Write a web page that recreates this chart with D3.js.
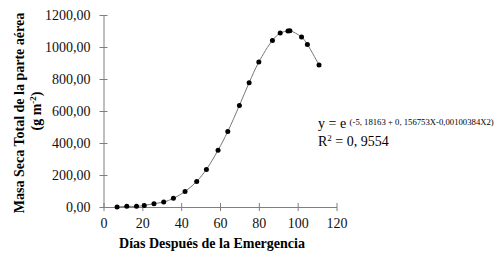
<!DOCTYPE html>
<html>
<head>
<meta charset="utf-8">
<script src="https://cdn.jsdelivr.net/npm/d3@7"></script>
<style>
  body { margin: 0; background: #fff; }
  text { font-family: "Liberation Serif", "Times New Roman", serif; }
</style>
</head>
<body>
<svg></svg>
<script>
// dias despues de la emergencia / masa seca (g m-2)
var dias = [7, 12, 17, 21, 26, 31, 36, 42, 48, 53, 59, 64, 70, 75, 80, 87, 91, 95, 96, 102, 105, 111]
var masa = [0, 4, 4, 10, 21, 31, 54, 97, 160, 235, 355, 472, 635, 777, 906, 1041, 1087, 1100, 1102, 1062, 1016, 887]
var xTicks = [0, 20, 40, 60, 80, 100, 120]
var yTicks = [0, 200, 400, 600, 800, 1000, 1200]

var data = dias.map((d, i) => ({x: d, y: masa[i]}))

var svg = d3.select("svg")
    .attr("width", 500)
    .attr("height", 257)

var margin = {top: 15, left: 103.5}
var graphWidth = 233
var graphHeight = 192

var graph = svg.append("g")
    .attr("transform", `translate(${margin.left}, ${margin.top})`)

var scX = d3.scaleLinear().domain([0, 120]).range([0, graphWidth])
var scY = d3.scaleLinear().domain([0, 1200]).range([graphHeight, 0])

var loc = d3.formatLocale({decimal: ",", thousands: "", grouping: [3], currency: ["", ""]})

var xAxis = d3.axisBottom(scX).tickValues(xTicks).tickSize(0).tickPadding(0).tickFormat(d3.format("d"))
var yAxis = d3.axisLeft(scY).tickValues(yTicks).tickSize(0).tickPadding(0).tickFormat(loc.format(".2f"))

var xg = graph.append("g").attr("transform", `translate(0, ${graphHeight})`).call(xAxis)
var yg = graph.append("g").call(yAxis)

// cross ticks like the excel chart
xg.selectAll(".tick line").attr("y1", -4).attr("y2", 4)
yg.selectAll(".tick line").attr("x1", -4).attr("x2", 4)
graph.selectAll(".domain, .tick line").attr("stroke", "#7f7f7f")
xg.selectAll(".tick text").attr("y", 21).attr("dy", 0)
yg.selectAll(".tick text").attr("x", -13).attr("dy", "0.35em")
graph.selectAll(".tick text").attr("font-size", 14).attr("font-family", "Liberation Serif").attr("fill", "#111")

var line = d3.line()
    .x(d => scX(d.x))
    .y(d => scY(d.y))
    .curve(d3.curveCatmullRom)

graph.append("path")
    .datum(data)
    .attr("d", line)
    .attr("fill", "none")
    .attr("stroke", "#777")
    .attr("stroke-width", 1)

graph.selectAll("circle").data(data).enter().append("circle")
    .attr("cx", d => scX(d.x))
    .attr("cy", d => scY(d.y))
    .attr("r", 2.5)
    .attr("fill", "#000")

// axis titles
svg.append("text")
    .attr("x", 212).attr("y", 248)
    .attr("text-anchor", "middle")
    .attr("font-size", 14).attr("font-weight", "bold")
    .text("Días Después de la Emergencia")

svg.append("text")
    .attr("transform", "translate(24, 113) rotate(-90)")
    .attr("text-anchor", "middle")
    .attr("font-size", 14).attr("font-weight", "bold")
    .text("Masa Seca Total de la parte aérea")

var l2 = svg.append("text")
    .attr("transform", "translate(41, 111) rotate(-90)")
    .attr("text-anchor", "middle")
    .attr("font-size", 14).attr("font-weight", "bold")
l2.append("tspan").text("(g m")
l2.append("tspan").attr("font-size", 9).attr("dy", -5).text("-2")
l2.append("tspan").attr("dy", 5).text(")")

// ecuacion
var eq = svg.append("text").attr("x", 318).attr("y", 128).attr("font-size", 14)
eq.append("tspan").text("y = e ")
eq.append("tspan").attr("font-size", 8.7).attr("dy", -3).text("(-5, 18163 + 0, 156753X-0,00100384X2)")

var r2 = svg.append("text").attr("x", 318).attr("y", 146).attr("font-size", 14)
r2.append("tspan").text("R")
r2.append("tspan").attr("font-size", 9).attr("dy", -5).text("2")
r2.append("tspan").attr("dy", 5).text(" = 0, 9554")
</script>
</body>
</html>
